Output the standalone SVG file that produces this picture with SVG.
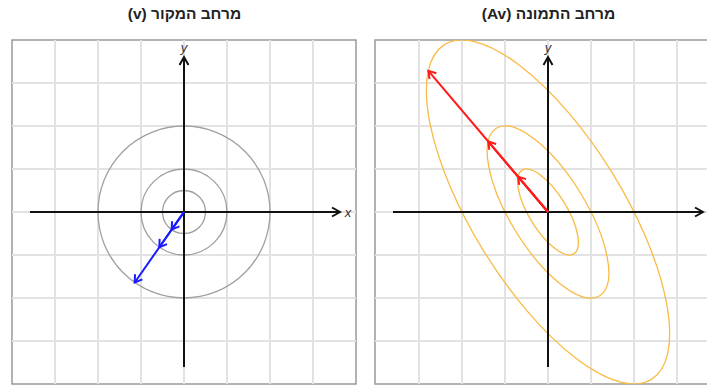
<svg xmlns="http://www.w3.org/2000/svg" width="707" height="385" viewBox="0 0 707 385">
<style>
.title{font-family:"Liberation Sans",Arial,sans-serif;font-weight:bold;font-size:15.5px;fill:#222;text-anchor:middle}
.lbl{font-family:"Liberation Sans",Arial,sans-serif;font-style:italic;font-size:13px;fill:#333;text-anchor:middle}
.grid{stroke:#e2e2e2;stroke-width:2;fill:none}
.frame{stroke:#999;stroke-width:1.5;fill:#fff}
.axis{stroke:#111;stroke-width:2;fill:none}
.circ{stroke:#a0a0a0;stroke-width:1.3;fill:none}
.ell{stroke:#f9bb45;stroke-width:1.3;fill:none}
.vb{stroke:#1a1aff;stroke-width:2;fill:none;marker-end:url(#mb)}
.vr{stroke:#ff1a1a;stroke-width:2;fill:none;marker-end:url(#mr)}
</style>
<defs>
<marker id="ma" markerUnits="userSpaceOnUse" markerWidth="14" markerHeight="14" refX="10" refY="7" orient="auto" overflow="visible">
<path d="M2,2.5 L10,7 L2,11.5" fill="none" stroke="#111" stroke-width="2"/>
</marker>
<marker id="mb" markerUnits="userSpaceOnUse" markerWidth="14" markerHeight="14" refX="10" refY="7" orient="auto" overflow="visible">
<path d="M3,2.5 L10,7 L3,11.5" fill="none" stroke="#1a1aff" stroke-width="2"/>
</marker>
<marker id="mr" markerUnits="userSpaceOnUse" markerWidth="14" markerHeight="14" refX="10" refY="7" orient="auto" overflow="visible">
<path d="M3,2.5 L10,7 L3,11.5" fill="none" stroke="#ff1a1a" stroke-width="2"/>
</marker>
<clipPath id="cl"><rect x="12" y="40" width="344" height="344"/></clipPath>
<clipPath id="cr"><rect x="375" y="40" width="344" height="344"/></clipPath>
</defs>
<rect width="707" height="385" fill="#fff"/>
<text class="title" x="184.5" y="19" direction="rtl">מרחב המקור (v)</text>
<text class="title" x="548.5" y="19" direction="rtl">מרחב התמונה (Av)</text>

<g id="source-panel">
<rect class="frame" x="12" y="40" width="344" height="344"/>
<g id="source-grid" class="grid">
<path d="M55,40V384M98,40V384M141,40V384M184,40V384M227,40V384M270,40V384M313,40V384"/>
<path d="M12,83H356M12,126H356M12,169H356M12,212H356M12,255H356M12,298H356M12,341H356"/>
</g>
<g id="source-circles" clip-path="url(#cl)">
<circle class="circ" cx="184" cy="212" r="21.5"/>
<circle class="circ" cx="184" cy="212" r="43"/>
<circle class="circ" cx="184" cy="212" r="86"/>
</g>
<g id="source-axes">
<line class="axis" x1="30" y1="212" x2="340" y2="212" marker-end="url(#ma)"/>
<line class="axis" x1="184" y1="367" x2="184" y2="57" marker-end="url(#ma)"/>
<text class="lbl" x="348" y="217">x</text>
<text class="lbl" x="184" y="52">y</text>
</g>
</g>

<g id="image-panel">
<rect class="frame" x="375" y="40" width="344" height="344"/>
<g id="image-grid" class="grid">
<path d="M419,40V384M462,40V384M505,40V384M548,40V384M591,40V384M634,40V384M677,40V384"/>
<path d="M375,83H719M375,126H719M375,169H719M375,212H719M375,255H719M375,298H719M375,341H719"/>
</g>
<g id="image-ellipses" clip-path="url(#cr)">
<ellipse class="ell" cx="0" cy="0" rx="49.2" ry="18.8" transform="translate(548,212) rotate(58.28)"/>
<ellipse class="ell" cx="0" cy="0" rx="98.4" ry="37.6" transform="translate(548,212) rotate(58.28)"/>
<ellipse class="ell" cx="0" cy="0" rx="196.8" ry="75.2" transform="translate(548,212) rotate(58.28)"/>
</g>
<g id="image-axes">
<line class="axis" x1="393" y1="212" x2="703" y2="212" marker-end="url(#ma)"/>
<line class="axis" x1="548" y1="367" x2="548" y2="57" marker-end="url(#ma)"/>
<text class="lbl" x="548" y="52">y</text>
</g>
</g>

<g id="connectors">
<line class="vb" x1="184" y1="212" x2="134.7" y2="282.5"/>
<line class="vb" x1="184" y1="212" x2="159.3" y2="247.2"/>
<line class="vb" x1="184" y1="212" x2="171.7" y2="229.6"/>
<line class="vr" x1="548" y1="212" x2="428.4" y2="70.9"/>
<line class="vr" x1="548" y1="212" x2="488.2" y2="141.5"/>
<line class="vr" x1="548" y1="212" x2="518.1" y2="176.7"/>
</g>
</svg>
